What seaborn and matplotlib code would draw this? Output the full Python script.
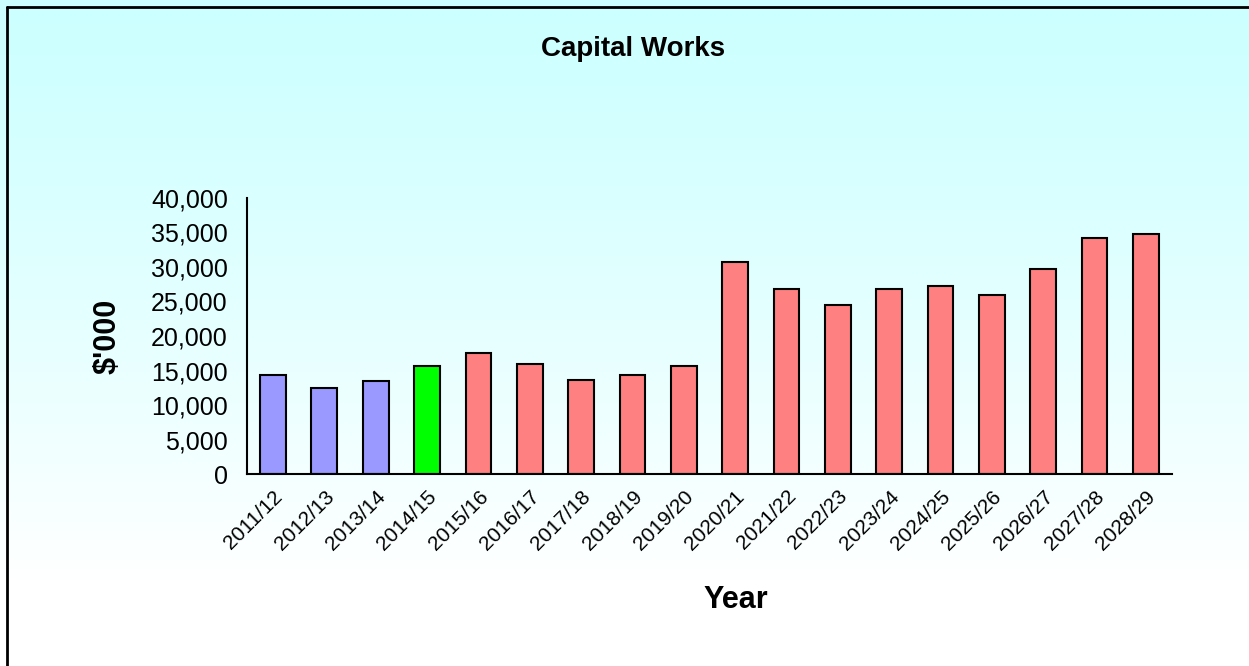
import numpy as np
import seaborn as sns
import matplotlib.pyplot as plt
import matplotlib.transforms as mtransforms
from matplotlib.ticker import FuncFormatter, FixedLocator

years = ['2011/12', '2012/13', '2013/14', '2014/15', '2015/16', '2016/17',
         '2017/18', '2018/19', '2019/20', '2020/21', '2021/22', '2022/23',
         '2023/24', '2024/25', '2025/26', '2026/27', '2027/28', '2028/29']
spend = [14300, 12500, 13500, 15700, 17500, 15900,
         13700, 14300, 15700, 30700, 26800, 24500,
         26800, 27200, 25900, 29700, 34200, 34700]
# actual, current year, forecast
period = ['actual'] * 3 + ['current'] + ['forecast'] * 14
period_colors = {'actual': '#9999FF', 'current': '#00FF00', 'forecast': '#FF8080'}

sns.set_style("white")
plt.rcParams['font.family'] = ['Liberation Sans', 'DejaVu Sans']
plt.rcParams['text.color'] = 'black'
plt.rcParams['axes.labelcolor'] = 'black'
plt.rcParams['xtick.color'] = 'black'
plt.rcParams['ytick.color'] = 'black'

fig = plt.figure(figsize=(12.49, 6.66), dpi=100)

# light cyan to white background gradient
bg = fig.add_axes([0, 0, 1, 1], zorder=0)
grad = np.clip(np.linspace(0, 1.15, 256), 0, 1).reshape(-1, 1) ** 1.2
top = np.array([0.80, 1.0, 1.0])
bot = np.array([1.0, 1.0, 1.0])
img = top[None, None, :] * (1 - grad[..., None]) + bot[None, None, :] * grad[..., None]
bg.imshow(img, aspect='auto', extent=[0, 1, 0, 1], origin='upper')
bg.plot([0.0055, 0.0055], [0, 0.989], color='black', lw=2)
bg.plot([0.0055, 1], [0.989, 0.989], color='black', lw=2)
bg.set_xlim(0, 1)
bg.set_ylim(0, 1)
bg.axis('off')

ax = fig.add_axes([0.198, 0.288, 0.740, 0.415], zorder=1)
ax.set_facecolor('none')

bar_colors = [period_colors[p] for p in period]
sns.barplot(x=years, y=spend, hue=years, palette=bar_colors, legend=False,
            width=0.5, edgecolor='black', linewidth=1.5, saturation=1, ax=ax)

ax.set_xlim(-0.5, len(years) - 0.5)
ax.set_ylim(0, 40000)
ax.set_yticks(range(0, 40001, 5000))
ax.yaxis.set_major_formatter(FuncFormatter(lambda v, p: f'{int(v):,}'))

# tick marks between categories, labels on the bars
ax.set_xticks(range(len(years)))
ax.set_xticklabels(years, rotation=45, ha='right', rotation_mode='anchor', fontsize=15)
shift = mtransforms.ScaledTranslation(-7 / 100, 0, fig.dpi_scale_trans)
for lab in ax.get_xticklabels():
    lab.set_transform(lab.get_transform() + shift)
ax.xaxis.set_minor_locator(FixedLocator(np.arange(-0.5, len(years), 1.0)))
ax.tick_params(axis='x', which='major', length=0, pad=9)
ax.tick_params(axis='x', which='minor', length=5, width=1.5, direction='out')
ax.tick_params(axis='y', length=5, width=1.5, direction='out', labelsize=18, pad=9)

for s in ['top', 'right']:
    ax.spines[s].set_visible(False)
for s in ['left', 'bottom']:
    ax.spines[s].set_color('black')
    ax.spines[s].set_linewidth(1.5)

ax.set_xlabel('Year', fontsize=22, fontweight='bold')
ax.xaxis.set_label_coords(0.529, -0.40)
ax.set_ylabel("$'000", fontsize=22, fontweight='bold')
ax.yaxis.set_label_coords(-0.135, 0.5)
fig.text(0.507, 0.927, 'Capital Works', fontsize=20, fontweight='bold', ha='center', va='center')

plt.savefig('out.png', dpi=100)
